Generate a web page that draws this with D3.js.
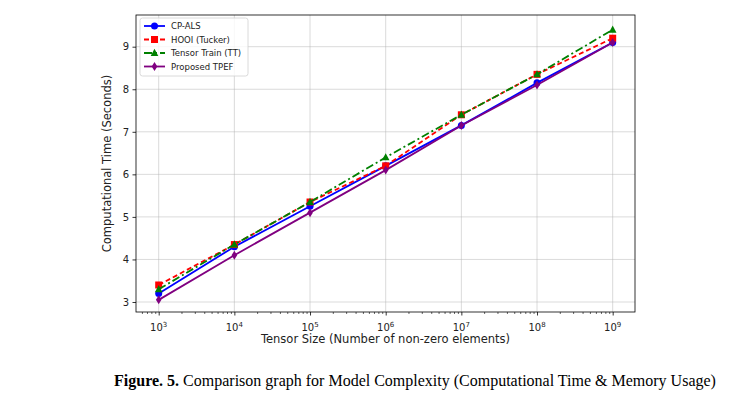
<!DOCTYPE html>
<html>
<head>
<meta charset="utf-8">
<script src="https://cdn.jsdelivr.net/npm/d3@7"></script>
<style>
  body { margin: 0; background: #fff; }
  svg { font-family: 'DejaVu Sans', sans-serif; }
</style>
</head>
<body>
<svg id="chart" width="740" height="395"></svg>
<script>
const sizes = [1e3, 1e4, 1e5, 1e6, 1e7, 1e8, 1e9];
const cpAls = [3.2, 4.3, 5.25, 6.2, 7.15, 8.15, 9.1];
const hooi = [3.4, 4.35, 5.35, 6.2, 7.4, 8.35, 9.2];
const tensorTrain = [3.3, 4.35, 5.35, 6.4, 7.4, 8.35, 9.4];
const tpef = [3.05, 4.1, 5.1, 6.1, 7.15, 8.1, 9.1];
const yTicks = [3, 4, 5, 6, 7, 8, 9];

const series = [
  { name: 'CP-ALS', values: cpAls, color: '#0000ff', dash: null, marker: 'circle' },
  { name: 'HOOI (Tucker)', values: hooi, color: '#ff0000', dash: '5,3', marker: 'square' },
  { name: 'Tensor Train (TT)', values: tensorTrain, color: '#008000', dash: '8,3,2,3', marker: 'triangle' },
  { name: 'Proposed TPEF', values: tpef, color: '#800080', dash: null, marker: 'diamond' }
];

const margin = { left: 136, right: 105, top: 15, bottom: 83 };
const width = 740, height = 395;
const svg = d3.select('#chart');

const x = d3.scaleLog()
  .domain([Math.pow(10, 2.7), Math.pow(10, 9.295)])
  .range([margin.left, width - margin.right]);

const y = d3.scaleLinear()
  .domain([2.765, 9.745])
  .range([height - margin.bottom, margin.top]);

// grid
const grid = svg.append('g');
sizes.forEach(s => {
  grid.append('line')
    .attr('x1', x(s)).attr('x2', x(s))
    .attr('y1', margin.top).attr('y2', height - margin.bottom)
    .attr('stroke', '#b0b0b0').attr('stroke-opacity', 0.6).attr('stroke-width', 0.8);
});
yTicks.forEach(t => {
  grid.append('line')
    .attr('x1', margin.left).attr('x2', width - margin.right)
    .attr('y1', y(t)).attr('y2', y(t))
    .attr('stroke', '#b0b0b0').attr('stroke-opacity', 0.6).attr('stroke-width', 0.8);
});

// x axis with major + minor ticks
const minor = [];
for (let e = 2; e <= 9; e++) {
  for (let m = 2; m <= 9; m++) {
    const v = m * Math.pow(10, e);
    if (v >= x.domain()[0] && v <= x.domain()[1]) minor.push(v);
  }
}
const xAxis = svg.append('g')
  .attr('transform', `translate(0,${height - margin.bottom})`)
  .call(d3.axisBottom(x).tickValues(sizes).tickSize(3.5).tickPadding(3.5).tickFormat(''));
xAxis.select('.domain').remove();
xAxis.selectAll('line').attr('stroke', '#000').attr('stroke-width', 0.8);
svg.append('g')
  .attr('transform', `translate(0,${height - margin.bottom})`)
  .call(d3.axisBottom(x).tickValues(minor).tickSize(2).tickFormat(''))
  .call(g => g.select('.domain').remove())
  .selectAll('line').attr('stroke', '#000').attr('stroke-width', 0.6);

sizes.forEach(s => {
  const t = svg.append('text')
    .attr('x', x(s)).attr('y', height - margin.bottom + 19)
    .attr('text-anchor', 'middle')
    .attr('font-size', 10).attr('fill', '#222');
  t.append('tspan').text('10');
  t.append('tspan').attr('dy', -4).attr('font-size', 7).text(Math.round(Math.log10(s)));
});

// y axis
const yAxis = svg.append('g')
  .attr('transform', `translate(${margin.left},0)`)
  .call(d3.axisLeft(y).tickValues(yTicks).tickSize(3.5).tickPadding(3.5).tickFormat(d3.format('d')));
yAxis.select('.domain').remove();
yAxis.selectAll('line').attr('stroke', '#000').attr('stroke-width', 0.8);
yAxis.selectAll('text').attr('font-size', 10).attr('fill', '#222')
  .attr('font-family', "'DejaVu Sans', sans-serif");

// frame
svg.append('rect')
  .attr('x', margin.left).attr('y', margin.top)
  .attr('width', width - margin.right - margin.left)
  .attr('height', height - margin.bottom - margin.top)
  .attr('fill', 'none').attr('stroke', '#000').attr('stroke-width', 0.8);

// axis labels
svg.append('text')
  .attr('x', (margin.left + width - margin.right) / 2)
  .attr('y', 343)
  .attr('text-anchor', 'middle')
  .attr('font-size', 11.5).attr('fill', '#222')
  .text('Tensor Size (Number of non-zero elements)');

svg.append('text')
  .attr('transform', `translate(111,${(margin.top + height - margin.bottom) / 2}) rotate(-90)`)
  .attr('text-anchor', 'middle')
  .attr('font-size', 11.5).attr('fill', '#222')
  .text('Computational Time (Seconds)');

// markers
function drawMarker(g, type, cx, cy, color) {
  if (type === 'circle') {
    g.append('circle').attr('cx', cx).attr('cy', cy).attr('r', 3.5).attr('fill', color);
  } else if (type === 'square') {
    g.append('rect').attr('x', cx - 3.5).attr('y', cy - 3.5).attr('width', 7).attr('height', 7).attr('fill', color);
  } else if (type === 'triangle') {
    g.append('path').attr('d', `M${cx},${cy - 4.2}L${cx + 3.8},${cy + 3}L${cx - 3.8},${cy + 3}Z`).attr('fill', color);
  } else {
    g.append('path').attr('d', `M${cx},${cy - 4.5}L${cx + 2.8},${cy}L${cx},${cy + 4.5}L${cx - 2.8},${cy}Z`).attr('fill', color);
  }
}

const line = d3.line().x(d => x(d[0])).y(d => y(d[1]));

series.forEach(s => {
  const pts = sizes.map((v, i) => [v, s.values[i]]);
  const g = svg.append('g');
  g.append('path')
    .datum(pts)
    .attr('d', line)
    .attr('fill', 'none')
    .attr('stroke', s.color)
    .attr('stroke-width', 1.8)
    .attr('stroke-dasharray', s.dash);
  pts.forEach(p => drawMarker(g, s.marker, x(p[0]), y(p[1]), s.color));
});

// legend
const lg = svg.append('g').attr('transform', 'translate(140,18)');
lg.append('rect')
  .attr('x', 0).attr('y', 0).attr('width', 108).attr('height', 58)
  .attr('rx', 2.5)
  .attr('fill', '#fff').attr('fill-opacity', 0.8)
  .attr('stroke', '#d0d0d0').attr('stroke-width', 0.8);
series.forEach((s, i) => {
  const yy = 8 + i * 13.5;
  lg.append('line')
    .attr('x1', 4).attr('x2', 25).attr('y1', yy).attr('y2', yy)
    .attr('stroke', s.color).attr('stroke-width', 1.8)
    .attr('stroke-dasharray', s.dash);
  drawMarker(lg, s.marker, 14.5, yy, s.color);
  lg.append('text')
    .attr('x', 31).attr('y', yy + 3.3)
    .attr('font-size', 8.5).attr('fill', '#222')
    .text(s.name);
});

// caption
const cap = svg.append('text')
  .attr('x', 415).attr('y', 386)
  .attr('text-anchor', 'middle')
  .attr('font-family', "'Liberation Serif', 'Times New Roman', serif")
  .attr('font-size', 16).attr('fill', '#000');
cap.append('tspan').attr('font-weight', 'bold').text('Figure. 5.');
cap.append('tspan').text(' Comparison graph for Model Complexity (Computational Time & Memory Usage)');
</script>
</body>
</html>
